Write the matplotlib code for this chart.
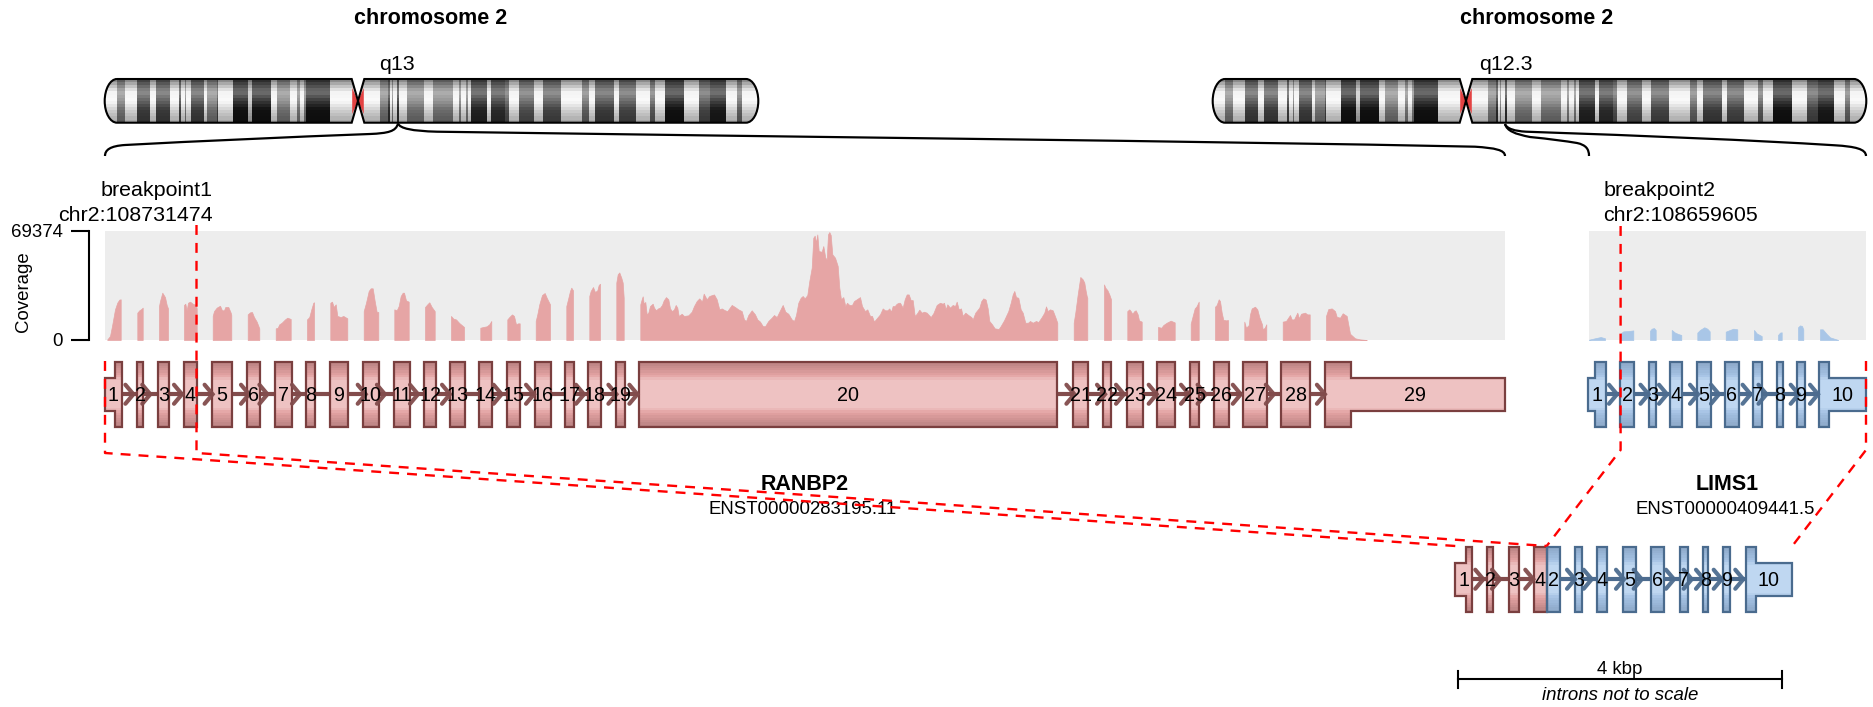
#!/usr/bin/env python3
"""
RANBP2-LIMS1 fusion plot: ideograms, coverage, exons and fusion transcript
"""

import numpy as np
import matplotlib
matplotlib.use('Agg')
import matplotlib.pyplot as plt
from matplotlib.path import Path
from matplotlib.patches import PathPatch, Polygon

plt.rcParams['font.family'] = ['Liberation Sans', 'DejaVu Sans']

# ideogram bands, position along the left ideogram
band_edges = [104.7, 117.3, 125, 136.7, 150, 155.7, 170, 179.3, 181, 185, 186, 190.7, 204, 207.3,
              216.7, 218.3, 232.7, 248.3, 251.7, 270.7, 276.7, 290, 296.7, 300, 304, 306, 330,
              351.7, 364.3, 380, 388.3, 390, 391.7, 393.3, 397.3, 399, 406.7, 424, 432.7, 452.7,
              459.3, 461, 466, 467.7, 471, 487.3, 490.7, 505, 509.3, 519.3, 534, 543.3, 560.7,
              581.7, 589.3, 595, 614, 619.3, 635.7, 650, 655, 665, 684.3, 699, 710, 726, 736.7,
              741.7, 758.3]
band_gray = [250, 130, 250, 70, 250, 70, 250, 70, 250, 130, 250, 70, 250,
             130, 70, 250, 20, 200, 20, 250, 130, 250, 130, 250, 130, 20,
             250, 255, 250, 130, 50, 250, 130, 250, 50, 250, 130, 250, 130,
             250, 130, 250, 130, 250, 40, 250, 50, 90, 250, 90, 250, 80,
             250, 110, 250, 70, 250, 80, 250, 100, 250, 20, 250, 80, 30,
             250, 110, 250]

# exons (start, end) of RANBP2
ranbp2_starts = [115, 136.9, 158.3, 183.6, 211.9, 246.7, 274.6, 306.4, 329.8, 362.7, 393.7, 424.3,
                 450.3, 479.4, 506.9, 534.9, 565.5, 588.5, 615.6, 639.4, 1073.2, 1102.7, 1126.8,
                 1157.4, 1190, 1214.4, 1243.3, 1281.5, 1324.9]
ranbp2_ends = [121.6, 143.4, 168.6, 197, 232.2, 260.1, 291.9, 315.2, 348.1, 379.1, 409.7, 435.8,
               464.9, 492.4, 520.3, 551, 573.9, 601.5, 624.8, 1057.5, 1088.1, 1111.5, 1142.9,
               1175, 1199.5, 1228.6, 1267, 1310.3, 1350.6]
ranbp2_utr5 = 105
ranbp2_utr3 = 1505.2
ranbp2_arrows = [133.4, 150.3, 182, 212.6, 249, 267.4, 300, 365.7, 384.9, 418, 450, 501.6, 534, 584,
                 616.4, 637.4, 1074.4, 1105, 1124, 1156.7, 1189, 1205.6, 1240.8, 1273.8, 1324.9]

# exons of LIMS1
lims1_starts = [1595.3, 1620.2, 1648.9, 1670.4, 1697, 1724.9, 1753.2, 1776.8, 1797, 1819.3]
lims1_ends = [1605.6, 1634.3, 1656.2, 1682, 1710.7, 1738.6, 1762.2, 1782.8, 1804.7, 1829.2]
lims1_utr5 = 1588.4
lims1_utr3 = 1866
lims1_arrows = [1617, 1648.5, 1667, 1698, 1719, 1750.6, 1766.5, 1798.7, 1818]

# fusion transcript
fusion_red_starts = [1465.7, 1487.3, 1509, 1534.3]
fusion_red_ends = [1472, 1493.3, 1518.7, 1546.7]
fusion_red_labels = ['1', '2', '3', '4']
fusion_blue_starts = [1546.7, 1575.3, 1597, 1623, 1651.3, 1679.7, 1703.3, 1723.3, 1745.7]
fusion_blue_ends = [1560.3, 1582, 1607.3, 1636, 1664, 1688, 1708.3, 1730.3, 1755.7]
fusion_blue_labels = ['2', '3', '4', '5', '6', '7', '8', '9', '10']
fusion_utr5 = 1455.3
fusion_utr3 = 1792.3
fusion_red_arrows = [1483.3, 1500, 1533.3]
fusion_blue_arrows = [1575, 1591.7, 1624, 1641.7, 1674, 1691.7, 1704, 1721.7, 1743.3]

# coverage of RANBP2, per exon
ranbp2_cov_x = [
    [107.3, 110, 112, 115, 117.3, 119.3, 120.7],
    [137.3, 139.3, 141.7, 142.7],
    [159, 160, 162.3, 165, 166.7, 168],
    [184, 185.3, 186.7, 188, 190, 192.7, 196, 196.7],
    [212.7, 214, 216.7, 220, 222, 224, 225.3, 228.3, 230.7, 231.3],
    [247.7, 250, 252, 254, 256.7, 259.3],
    [275.7, 277.7, 279.3, 281.7, 285, 287.3, 290.7],
    [307, 309.3, 311.3, 313.3, 314],
    [330.3, 332, 333.7, 335.7, 337.3, 340.7, 343.3, 347.3],
    [363.7, 366, 368.7, 370.7, 372.7, 374.7, 376.7, 378.3],
    [394.3, 396.7, 398.7, 400.7, 402.7, 404, 406, 408.7],
    [425, 427.3, 429.3, 431.7, 434.7],
    [451, 453.3, 456, 459.3, 464],
    [480.3, 483.3, 486.7, 489.3, 491.3],
    [507.3, 509.3, 512, 514, 516, 518, 519.7],
    [535.7, 537.3, 539.3, 542, 544.7, 546.7, 550],
    [566.3, 568, 570, 571.3, 573],
    [589.3, 590.7, 593, 595, 597.3, 598.7, 600],
    [616.3, 617.7, 619.3, 621.3, 622.7, 623.7],
    [640.3, 641.7, 642.7, 643.7, 645.3, 646.7, 648.3, 650, 652.7, 654, 656, 658, 660, 662, 663.7,
     666, 668.3, 670, 672, 674, 675.7, 677.3, 678.7, 681.7, 684, 688.3, 691.7, 694, 696.7, 699.3,
     702, 703.7, 706.7, 709.3, 712, 714, 716.7, 719.3, 721.7, 725, 727.3, 731.7, 735, 738.3, 741.7,
     744, 746, 748.3, 751.7, 755, 757.3, 760, 762.7, 765, 768.3, 771.7, 774, 776.7, 780, 782.7,
     785.3, 788.3, 791.7, 794, 796, 798.3, 800.7, 802.7, 804.7, 807.3, 809.3, 811.7, 813.3, 814.7,
     816, 817.3, 818.7, 821.7, 823.3, 825.3, 826.7, 828, 829.3, 830.7, 832.3, 835, 837.7, 839.3,
     841, 843.3, 845.3, 847, 849.3, 852, 854, 856.7, 860, 862, 865, 867.3, 870, 872, 874, 876.7,
     880, 882.7, 885, 887.3, 889.3, 891, 892.7, 894.7, 896.7, 898.7, 900, 902.7, 904.7, 906.7,
     908.7, 910.7, 912.7, 914.7, 916.7, 919.3, 921.7, 924, 926.7, 930.7, 933.3, 936.7, 940, 942.7,
     944, 945.7, 947.3, 950, 952.7, 955, 956.7, 958.7, 961, 962.7, 965.3, 968.3, 971.3, 972.7,
     975.3, 979.3, 981.3, 983.3, 985.7, 987.7, 989.3, 992, 994.7, 998.7, 1000.7, 1004, 1008.3,
     1010.7, 1012.7, 1014.3, 1016, 1018.3, 1020.7, 1022.7, 1025.3, 1028, 1030, 1032.7, 1036, 1038.3,
     1041.7, 1044.3, 1046, 1047.7, 1050, 1052.7, 1055.3, 1057.3],
    [1073.7, 1075.3, 1077.7, 1080.3, 1082.7, 1084.3, 1085.7, 1086.7, 1087.3],
    [1104, 1105.3, 1107.3, 1109.3, 1111],
    [1127.3, 1129.3, 1130.7, 1132.3, 1134.3, 1135.7, 1137.7, 1139, 1141.7],
    [1158, 1161.3, 1163.3, 1166.7, 1170.7, 1174.7],
    [1190.7, 1192.7, 1194.7, 1196.7, 1198.7],
    [1215, 1216.7, 1218.7, 1220, 1221.7, 1223.3, 1226, 1228],
    [1244.3, 1246, 1248.7, 1250, 1251.7, 1255, 1257.3, 1259.3, 1262, 1262.7, 1264.7, 1266.3],
    [1282.7, 1286, 1290, 1291.7, 1294, 1297.3, 1299, 1301, 1305, 1307.3, 1309.7],
    [1326, 1328.3, 1331.7, 1335, 1336.7, 1340, 1342.7, 1346.7, 1350, 1355, 1360, 1366.7],
]
ranbp2_cov = [
    [400, 2500, 8900, 19500, 23800, 25700, 25900],
    [17400, 18900, 19900, 20600],
    [21600, 24800, 30100, 27300, 22300, 20100],
    [22300, 23100, 18900, 23700, 24400, 23100, 22300, 20100],
    [15300, 18400, 20600, 21800, 18900, 18900, 21000, 21000, 17400, 15900],
    [16300, 17600, 17800, 14600, 11700, 7400],
    [7400, 7800, 10000, 11000, 13100, 14200, 13400],
    [13100, 14600, 19500, 23700, 24000],
    [23700, 24400, 21000, 22700, 15300, 14600, 15300, 13800],
    [18400, 23700, 31200, 32900, 32900, 24800, 17800, 17800],
    [19500, 18900, 21600, 28000, 30100, 30100, 25200, 24400],
    [21000, 22700, 24000, 21000, 18400],
    [15300, 13600, 13100, 10800, 8300],
    [7800, 8300, 8700, 10000, 12100],
    [13100, 14600, 16300, 15300, 10000, 10600, 10600],
    [12100, 16300, 22700, 28600, 29900, 26900, 22700],
    [21600, 25900, 31200, 33300, 31600],
    [28000, 31200, 33700, 30500, 31600, 35000, 35800],
    [36500, 41800, 43000, 39600, 36500, 26900],
    [22700, 25900, 27800, 23100, 24200, 16300, 17400, 21600, 23100, 20600, 18900, 20100, 20600, 22300, 25200,
     27300, 25900, 20100, 18400, 19500, 22300, 20600, 15300, 16700, 15300, 15700, 18000, 21600, 24800, 26500,
     24400, 29500, 25900, 28000, 28600, 29000, 25900, 19500, 20100, 18900, 18400, 22300, 21000, 19500, 18400,
     13100, 12100, 15900, 18900, 16300, 13100, 11700, 8900, 8700, 12100, 14200, 15900, 14600, 18900, 22300,
     18000, 16700, 13100, 12100, 15900, 23700, 26900, 28000, 26500, 28600, 37500, 46000, 65100, 66400,
     61900, 67200, 56600, 56200, 59800, 52400, 51300, 67200, 68700, 66800, 54500, 52400, 47100, 33300,
     25900, 27300, 21600, 23700, 22300, 22300, 24800, 25900, 27300, 21600, 18400, 19500, 15300, 15300, 11700, 13800,
     16300, 20100, 18900, 18900, 20100, 18000, 21600, 21600, 23100, 23700, 23700, 20600, 25900, 29000,
     29000, 25400, 25400, 15300, 16700, 19300, 17400, 18000, 17400, 14600, 17000, 22300, 23700, 23100,
     23700, 19500, 22700, 20600, 22300, 21600, 24400, 19500, 20100, 15300, 17400, 15900, 14600, 13100,
     17400, 20600, 24800, 26500, 25700, 20100, 12100, 10000, 7400, 7000, 8900, 12500, 18400,
     23700, 29000, 31200, 27300, 26900, 19500, 17400, 11000, 11000, 12100, 11000, 12100, 11400,
     14600, 17400, 21400, 18400, 19500, 18900, 14600, 11000],
    [11000, 17400, 29000, 40100, 38600, 36500, 31200, 28000, 26900],
    [35400, 33300, 31800, 29000, 25900],
    [18400, 19500, 18400, 16700, 18400, 18900, 16300, 12500, 11700],
    [8300, 7800, 9500, 11000, 12300, 11200],
    [10400, 15300, 20100, 21600, 24400],
    [21200, 22300, 25900, 24800, 17400, 12900, 12500, 12700],
    [11700, 7800, 9500, 16300, 20100, 21200, 19500, 14600, 10000, 6800, 7800, 10000],
    [11700, 12100, 15900, 13100, 13100, 17400, 13800, 16700, 17400, 16300, 16300],
    [15300, 19700, 20100, 18400, 14800, 14200, 17000, 15300, 4000, 1100, 400, 0],
]

# coverage of LIMS1, per exon
lims1_cov_x = [
    [1589, 1595, 1600.7, 1605],
    [1620.7, 1623.3, 1628.3, 1633.3],
    [1650, 1651.7, 1654, 1655.7],
    [1671.7, 1675, 1678.3, 1681.3],
    [1697.3, 1700, 1704.3, 1707.3, 1709.7],
    [1725.7, 1730, 1733.3, 1737.3],
    [1754, 1756.7, 1761.7],
    [1778, 1780, 1781.7],
    [1798, 1800, 1802, 1803.3],
    [1820, 1822.7, 1826.7, 1830, 1838.3],
]
lims1_cov = [
    [200, 1100, 1900, 1100],
    [4200, 5500, 5700, 6100],
    [5900, 7200, 7600, 6400],
    [6400, 4700, 3800, 3200],
    [4700, 6400, 8100, 7200, 5500],
    [5300, 6400, 7200, 6800],
    [6400, 4200, 2500],
    [3200, 4700, 4900],
    [8100, 9300, 8900, 6800],
    [6800, 6800, 3800, 1700, 0],
]
coverage_max = 69374

FONT = 13.4
EXON_FONT = 14.2
LABEL_FONT = 15.4
TITLE_FONT = 15.5
BLACK = '#000000'
DASH_RED = '#ff0000'
COV_BG = '#ededed'

RED_STYLE = {'edge': '#7a3f3f', 'dark': '#b78080', 'mid': '#e4a3a3', 'light': '#eec2c2',
             'arrow': '#824c4c', 'cov': '#e6a5a5'}
BLUE_STYLE = {'edge': '#4a6b8e', 'dark': '#8ba7c6', 'mid': '#a5c2e4', 'light': '#bfd7f1',
              'arrow': '#4d6c8f', 'cov': '#a9c6e7'}

EXON_TOP = 361.5
EXON_BOTTOM = 427
UTR_TOP = 377.5
UTR_BOTTOM = 411
FUSION_SHIFT = 185


def exon_gradient(style):
    """竖直方向分段渐变"""
    stops = np.array([0, 0.22, 0.29, 0.71, 0.78, 1])
    colors = [style['dark'], style['mid'], style['light'], style['light'], style['mid'], style['dark']]
    rgb = np.array([matplotlib.colors.to_rgb(c) for c in colors])
    pos = (np.arange(28) + 0.5) / 28
    return np.stack([np.interp(pos, stops, rgb[:, i]) for i in range(3)], axis=1)[:, None, :]


def draw_exon(ax, left, right, style, shift=0, utr_left=None, utr_right=None):
    """画一个外显子，可带 UTR"""
    top, bottom = EXON_TOP + shift, EXON_BOTTOM + shift
    utop, ubot = UTR_TOP + shift, UTR_BOTTOM + shift
    x0 = left if utr_left is None else utr_left
    x1 = right if utr_right is None else utr_right
    pts = []
    if utr_left is not None:
        pts += [(utr_left, ubot), (utr_left, utop), (left, utop)]
    pts += [(left, top), (right, top)]
    if utr_right is not None:
        pts += [(right, utop), (utr_right, utop), (utr_right, ubot), (right, ubot)]
    pts += [(right, bottom), (left, bottom)]
    if utr_left is not None:
        pts += [(left, ubot)]
    poly = Polygon(pts, closed=True, facecolor='none', edgecolor=style['edge'], linewidth=1.6,
                   zorder=4, joinstyle='miter')
    ax.add_patch(poly)
    img = ax.imshow(exon_gradient(style), extent=(x0, x1, bottom, top), aspect='auto',
                    interpolation='nearest', zorder=3)
    img.set_clip_path(poly)


def draw_chevrons(ax, tips, color, y):
    """内含子方向箭头"""
    for tip in tips:
        ax.plot([tip - 8, tip, tip - 8], [y - 9.5, y, y + 9.5], color=color, linewidth=3,
                zorder=5, solid_capstyle='round', solid_joinstyle='miter', alpha=0.95)


def draw_gene(ax, starts, ends, utr5, utr3, style, arrows, shift=0, labels=None):
    """画整个基因"""
    y = (EXON_TOP + EXON_BOTTOM) / 2 + shift
    ax.plot([starts[0], ends[-1]], [y, y], color=style['arrow'], linewidth=3, zorder=2)
    for i, (s, e) in enumerate(zip(starts, ends)):
        ul = utr5 if i == 0 and utr5 is not None else None
        ur = utr3 if i == len(starts) - 1 and utr3 is not None else None
        draw_exon(ax, s, e, style, shift, ul, ur)
        text = labels[i] if labels else str(i + 1)
        center = ((s if ul is None else ul) + (e if ur is None else ur)) / 2
        ax.text(center, y + 1.5, text, ha='center', va='center', fontsize=EXON_FONT, zorder=6)
    draw_chevrons(ax, arrows, style['arrow'], y)


def draw_ideogram(ax, offset):
    """画染色体模式图"""
    top, bottom, mid = 79, 122.7, 101
    left, right = 104.7 + offset, 758.3 + offset
    cen_l, cen_r = 351.7 + offset, 364.3 + offset
    verts = [(117 + offset, top), (110.2 + offset, top), (left, 89), (left, mid),
             (left, 113), (110.2 + offset, bottom), (117 + offset, bottom),
             (cen_l, bottom), (cen_r, top), (746 + offset, top),
             (752.8 + offset, top), (right, 89), (right, mid),
             (right, 113), (752.8 + offset, bottom), (746 + offset, bottom),
             (cen_r, bottom), (cen_l, top), (117 + offset, top)]
    codes = [Path.MOVETO, Path.CURVE4, Path.CURVE4, Path.CURVE4,
             Path.CURVE4, Path.CURVE4, Path.CURVE4,
             Path.LINETO, Path.LINETO, Path.LINETO,
             Path.CURVE4, Path.CURVE4, Path.CURVE4,
             Path.CURVE4, Path.CURVE4, Path.CURVE4,
             Path.LINETO, Path.LINETO, Path.LINETO]
    outline = PathPatch(Path(verts, codes), facecolor='none', edgecolor=BLACK, linewidth=1.5, zorder=3)
    ax.add_patch(outline)

    # 明暗: value = base * m + a
    n = 14
    ys = np.linspace(top, bottom, n + 1)
    frac = (np.arange(n) + 0.5) / n
    m = np.interp(frac, [0, 0.3, 0.5, 0.7, 1], [0.39, 0.57, 0.84, 0.84, 0.65])
    a = np.interp(frac, [0, 0.3, 0.5, 0.7, 1], [30, 100, 40, 0, 0])
    base = np.array(band_gray, dtype=float)
    values = np.clip(np.outer(m, base) + a[:, None], 0, 255)
    mesh = ax.pcolormesh(np.array(band_edges) + offset, ys, values, cmap='gray', vmin=0, vmax=255,
                         zorder=1, rasterized=True)
    mesh.set_clip_path(outline)
    # 着丝粒
    cx = (cen_l + cen_r) / 2
    ax.add_patch(Polygon([(cen_l + 0.5, 88), (cx, mid), (cen_l + 0.5, 114)], color='#e34343', lw=0, zorder=2))
    ax.add_patch(Polygon([(cen_r - 0.5, 88), (cx, mid), (cen_r - 0.5, 114)], color='#e34343', lw=0, zorder=2))
    ax.add_patch(Polygon([(cen_l, top), (cen_r, top), (cx, mid)], color='white', lw=0, zorder=1.5))
    ax.add_patch(Polygon([(cen_l, bottom), (cen_r, bottom), (cx, mid)], color='white', lw=0, zorder=1.5))


def draw_bracket(ax, verts):
    """从染色体到基因的弧线，verts 为三次贝塞尔控制点"""
    codes = [Path.MOVETO] + [Path.CURVE4] * (len(verts) - 1)
    ax.add_patch(PathPatch(Path(verts, codes), facecolor='none', edgecolor=BLACK, linewidth=1.6, zorder=3))


def plot_results():
    fig = plt.figure(figsize=(18.73, 7.07), dpi=100)

    # 覆盖度坐标轴
    W, H = 1873.0, 707.0
    cov_ax = fig.add_axes([0, 1 - 340 / H, 1, 109 / H], zorder=1)
    cov_ax.set_xlim(0, W)
    cov_ax.set_ylim(0, coverage_max)
    cov_ax.patch.set_visible(False)
    cov_ax.axvspan(105, 1505, color=COV_BG, lw=0)
    cov_ax.axvspan(1589, 1866, color=COV_BG, lw=0)
    for xs, ys in zip(ranbp2_cov_x, ranbp2_cov):
        cov_ax.fill_between(xs, 0, ys, color=RED_STYLE['cov'], lw=0.5)
    for xs, ys in zip(lims1_cov_x, lims1_cov):
        cov_ax.fill_between(xs, 0, ys, color=BLUE_STYLE['cov'], lw=0.5)
    for name in ['top', 'right', 'bottom']:
        cov_ax.spines[name].set_visible(False)
    cov_ax.spines['left'].set_position(('data', 89))
    cov_ax.spines['left'].set_linewidth(1.5)
    cov_ax.set_xticks([])
    cov_ax.set_yticks([0, coverage_max])
    cov_ax.set_yticklabels(['0', str(coverage_max)], fontsize=FONT)
    cov_ax.tick_params(axis='y', length=12.7, width=1.5, pad=6)

    # 其余内容
    ax = fig.add_axes([0, 0, 1, 1], zorder=2)
    ax.patch.set_visible(False)
    ax.axis('off')

    draw_ideogram(ax, 0)
    draw_ideogram(ax, 1108)

    draw_bracket(ax, [(398, 123.5), (396, 131.5), (388, 133.2), (370, 134),
                      (290, 137), (200, 141), (125, 145),
                      (110, 146), (105, 150), (105, 156)])
    draw_bracket(ax, [(398, 123.5), (400, 128.5), (412, 131), (437, 131.7),
                      (800, 137), (1200, 141), (1475, 146.7),
                      (1495, 148), (1505, 150), (1505, 156)])
    draw_bracket(ax, [(1505, 124), (1507, 131), (1515, 134), (1530, 137),
                      (1550, 139), (1565, 141), (1577, 143),
                      (1586, 145), (1589, 149), (1589, 156)])
    draw_bracket(ax, [(1505, 124), (1507, 129), (1515, 131), (1526, 131.7),
                      (1650, 136), (1750, 140), (1835, 145.3),
                      (1855, 146.5), (1866, 149), (1866, 156)])

    # 转录本
    draw_gene(ax, ranbp2_starts, ranbp2_ends, ranbp2_utr5, ranbp2_utr3, RED_STYLE, ranbp2_arrows)
    draw_gene(ax, lims1_starts, lims1_ends, lims1_utr5, lims1_utr3, BLUE_STYLE, lims1_arrows)

    # 融合转录本
    draw_gene(ax, fusion_red_starts, fusion_red_ends, fusion_utr5, None, RED_STYLE, fusion_red_arrows,
              shift=FUSION_SHIFT, labels=fusion_red_labels)
    draw_gene(ax, fusion_blue_starts, fusion_blue_ends, None, fusion_utr3, BLUE_STYLE, fusion_blue_arrows,
              shift=FUSION_SHIFT, labels=fusion_blue_labels)

    # 红色虚线
    dash = dict(color=DASH_RED, linewidth=1.7, linestyle=(0, (4.2, 3.4)), zorder=7)
    ax.plot([196.5, 196.5, 1546.7], [225, 453, 546], **dash)
    ax.plot([105, 105, 1455.3], [361, 453, 546], **dash)
    ax.plot([1620.6, 1620.6, 1546.7], [226, 450, 546], **dash)
    ax.plot([1866, 1866, 1792.3], [361, 450, 546], **dash)

    # 文字
    ax.text(431, 19, 'chromosome 2', ha='center', va='center', fontsize=TITLE_FONT, fontweight='bold')
    ax.text(1537, 19, 'chromosome 2', ha='center', va='center', fontsize=TITLE_FONT, fontweight='bold')
    ax.text(397, 64.5, 'q13', ha='center', va='center', fontsize=LABEL_FONT)
    ax.text(1505.6, 64.5, 'q12.3', ha='center', va='center', fontsize=LABEL_FONT)
    ax.text(212.5, 190, 'breakpoint1', ha='right', va='center', fontsize=LABEL_FONT)
    ax.text(212.5, 215.5, 'chr2:108731474', ha='right', va='center', fontsize=LABEL_FONT)
    ax.text(1603.5, 190, 'breakpoint2', ha='left', va='center', fontsize=LABEL_FONT)
    ax.text(1603.5, 215.5, 'chr2:108659605', ha='left', va='center', fontsize=LABEL_FONT)
    ax.text(24, 292, 'Coverage', rotation=90, ha='center', va='center', fontsize=FONT)
    ax.text(804.7, 485, 'RANBP2', ha='center', va='center', fontsize=TITLE_FONT, fontweight='bold')
    ax.text(803, 510, 'ENST00000283195.11', ha='center', va='center', fontsize=FONT)
    ax.text(1726.7, 485, 'LIMS1', ha='center', va='center', fontsize=TITLE_FONT, fontweight='bold')
    ax.text(1725, 510, 'ENST00000409441.5', ha='center', va='center', fontsize=FONT)

    # 比例尺
    ax.plot([1458, 1782], [679, 679], color=BLACK, linewidth=1.5)
    ax.plot([1458, 1458], [671, 688], color=BLACK, linewidth=1.5)
    ax.plot([1782, 1782], [671, 688], color=BLACK, linewidth=1.5)
    ax.text(1620, 670, '4 kbp', ha='center', va='center', fontsize=FONT)
    ax.text(1620, 695, 'introns not to scale', ha='center', va='center', fontsize=FONT, fontstyle='italic')

    ax.set_xlim(0, W)
    ax.set_ylim(H, 0)

    fig.savefig('out.png', dpi=100)


if __name__ == "__main__":
    plot_results()
